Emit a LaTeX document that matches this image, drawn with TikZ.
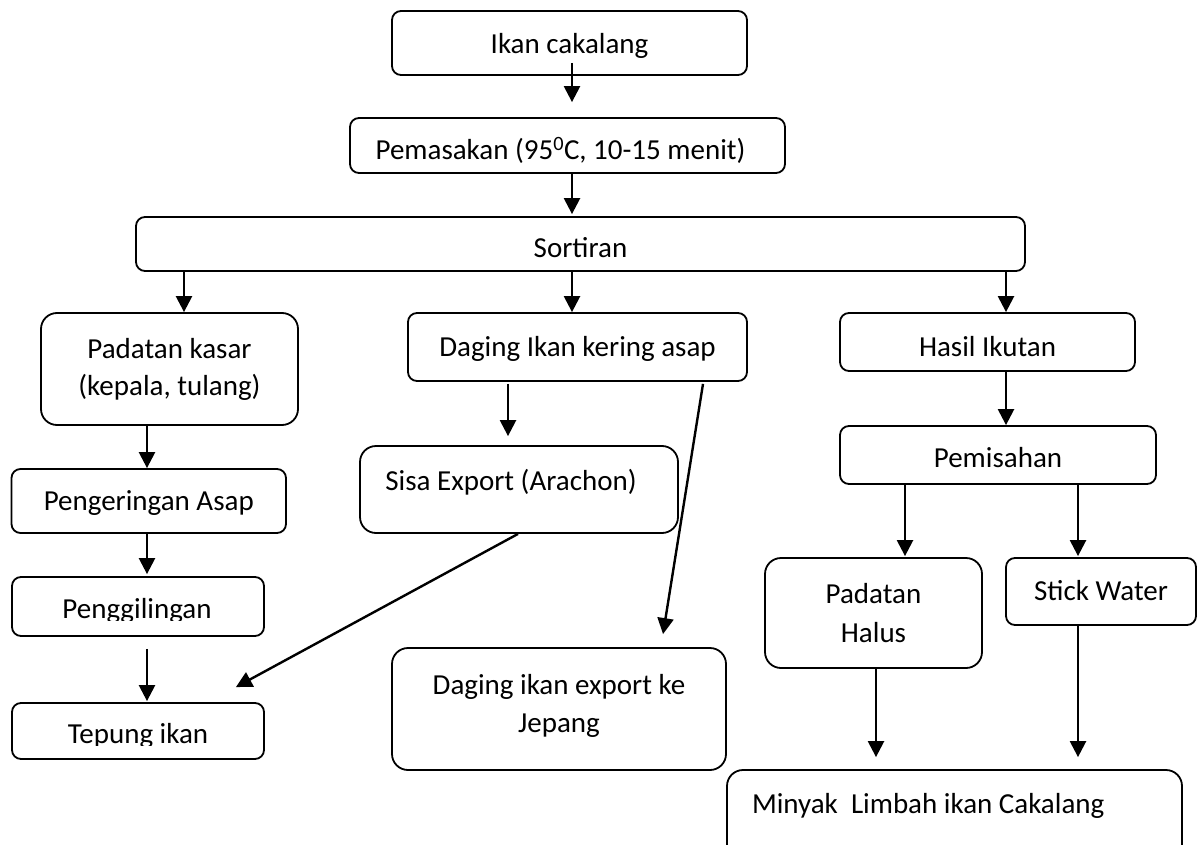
\documentclass[tikz,border=0pt]{standalone}
\usepackage{fontspec}
\setmainfont{Carlito}
\usetikzlibrary{arrows.meta,calc}
\begin{document}
\begin{tikzpicture}[x=1pt,y=-1pt,
  box/.style={draw, line width=1.8pt, rounded corners=9pt, inner sep=0pt,
    font=\fontsize{29}{37}\selectfont, align=center},
  bigbox/.style={box, rounded corners=16pt},
  one/.style={text height=30pt, text depth=#1},
  txt/.style={inner sep=0pt, font=\fontsize{29}{37}\selectfont},
  arr/.style={line width=2.4pt, -{Triangle[length=16pt,width=16pt]}}]
\clip (0,0) rectangle (1198,845);
% boxes
\node[box,one=8pt,minimum width=355pt,minimum height=64pt] (ikan) at (569.5,43) {Ikan cakalang};
\node[box,one=1pt,minimum width=435pt,minimum height=55pt] (pemasakan) at (567.5,145.5) {Pemasakan (95\textsuperscript{0}C, 10-15 menit)\hspace*{14pt}};
\node[box,one=4pt,minimum width=889pt,minimum height=54pt] (sortiran) at (580.5,244) {Sortiran};
\node[bigbox,minimum width=257pt,minimum height=112pt] (kasar) at (169.5,369) {Padatan kasar\\(kepala, tulang)};
\node[box,one=12pt,minimum width=339pt,minimum height=68pt] (kering) at (577.5,347) {Daging Ikan kering asap};
\node[box,one=2pt,minimum width=295pt,minimum height=58pt] (hasil) at (987.5,342) {Hasil Ikutan};
\node[bigbox,one=29pt,minimum width=318pt,minimum height=87pt] (sisa) at (519,489.5) {Sisa Export (Arachon)\hspace*{16pt}};
\node[box,one=12pt,minimum width=274.5pt,minimum height=64pt] (pengeringan) at (148.75,501) {Pengeringan Asap};
\node[box,minimum width=252pt,minimum height=59pt] (penggilingan) at (138,606.5) {};
\node[box,minimum width=252pt,minimum height=56pt] (tepung) at (138,731) {};
\begin{scope}
  \clip (12,577) rectangle (264,620);
  \node[txt,anchor=base] (penggtxt) at (137,618) {Penggilingan};
\end{scope}
\begin{scope}
  \clip (12,703) rectangle (264,745);
  \node[txt,anchor=base] (tepungtxt) at (138,743) {Tepung ikan};
\end{scope}
\node[bigbox,minimum width=334pt,minimum height=122pt,font=\fontsize{29}{38}\selectfont] (export) at (559,709) {Daging ikan export ke\\Jepang\\[-27pt]};
\node[box,one=6pt,minimum width=316pt,minimum height=58pt] (pemisahan) at (998,455) {Pemisahan};
\node[bigbox,minimum width=217pt,minimum height=110pt,font=\fontsize{29}{39}\selectfont] (halus) at (873.5,613) {Padatan\\Halus};
\node[box,one=13pt,minimum width=190pt,minimum height=67pt] (stick) at (1101,591.5) {Stick Water};
\node[bigbox,one=34pt,inner xsep=25pt,minimum width=455pt,minimum height=90pt] (minyak) at (954.5,815) {\makebox[405pt][l]{Minyak\ \ Limbah ikan Cakalang}};
% connectors
\draw[arr] ($(ikan.south)+(2.5,-13)$) -- ($(pemasakan.north)+(4.5,-15)$);
\draw[arr] ($(pemasakan.south)+(4.5,0)$) -- ($(sortiran.north)+(-8.5,-2)$);
\draw[arr] ($(sortiran.south)+(-396.5,0)$) -- ($(kasar.north)+(14.5,0)$);
\draw[arr] ($(sortiran.south)+(-8.5,0)$) -- ($(kering.north)+(-5.5,0)$);
\draw[arr] ($(sortiran.south)+(425.5,0)$) -- ($(hasil.north)+(18.5,0)$);
\draw[arr] ($(hasil.south)+(18.5,0)$) -- ($(pemisahan.north)+(8,0)$);
\draw[arr] ($(kasar.south)+(-22.5,0)$) -- ($(pengeringan.north)+(-1.75,0)$);
\draw[arr] ($(pengeringan.south)+(-1.75,0)$) -- ($(penggilingan.north)+(9,-2)$);
\draw[arr] ($(penggilingan.south)+(9,12)$) -- ($(tepung.north)+(9,-1)$);
\draw[arr] ($(kering.south)+(-69.5,2)$) -- ($(sisa.north)+(-11,-9)$);
\draw[arr] ($(sisa.south)+(-1,0)$) -- ($(tepung.north east)+(-29,-15)$);
\draw[arr] ($(kering.south)+(125.5,2)$) -- ($(export.north)+(104,-13)$);
\draw[arr] ($(pemisahan.south)+(-93,0)$) -- ($(halus.north)+(31.5,-1)$);
\draw[arr] ($(pemisahan.south)+(80,0)$) -- ($(stick.north)+(-23,-1)$);
\draw[arr] ($(halus.south)+(2.5,0)$) -- ($(minyak.north)+(-78.5,-12)$);
\draw[arr] ($(stick.south)+(-23,0)$) -- ($(minyak.north)+(123.5,-12)$);
\end{tikzpicture}
\end{document}
